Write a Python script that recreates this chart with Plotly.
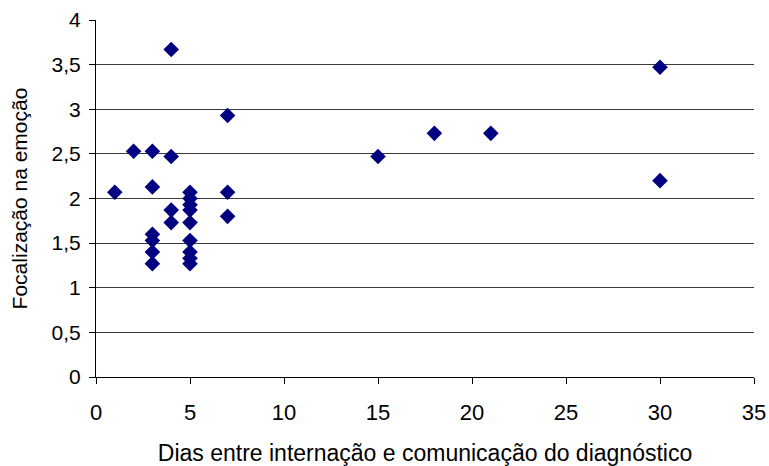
import plotly.graph_objects as go

# Days between admission and diagnosis disclosure
dias = [1, 2, 3, 3, 3, 3, 3, 3,
        4, 4, 4, 4,
        5, 5, 5, 5, 5, 5, 5, 5, 5,
        7, 7, 7, 15, 18, 21, 30, 30]
# Emotion-focused coping score
focalizacao = [2.07, 2.53, 2.53, 2.13, 1.60, 1.53, 1.40, 1.27,
               3.67, 2.47, 1.87, 1.73,
               2.07, 2.00, 1.93, 1.87, 1.73, 1.53, 1.40, 1.33, 1.27,
               2.93, 2.07, 1.80, 2.47, 2.73, 2.73, 3.47, 2.20]

x_ticks = [0, 5, 10, 15, 20, 25, 30, 35]
y_ticks = [0, 0.5, 1, 1.5, 2, 2.5, 3, 3.5, 4]
y_labels = ["0", "0,5", "1", "1,5", "2", "2,5", "3", "3,5", "4"]

fig = go.Figure(go.Scatter(
    x=dias, y=focalizacao, mode="markers",
    marker=dict(symbol="diamond", size=12, color="#000080",
                line=dict(width=0)),
    showlegend=False,
))

font = dict(family="Liberation Sans, Arial, sans-serif", color="black")

fig.update_layout(
    width=769, height=466,
    margin=dict(l=96, r=15, t=20, b=89),
    paper_bgcolor="white", plot_bgcolor="white",
    font=dict(**font, size=20),
)
fig.update_xaxes(
    range=[0, 35], tickvals=x_ticks, ticktext=[str(v) for v in x_ticks],
    showgrid=False, zeroline=False, automargin=False,
    showline=True, linecolor="black", linewidth=1,
    ticks="outside", ticklen=6, tickcolor="black",
    tickfont=dict(size=22), ticklabelstandoff=10,
    title=dict(text="Dias entre internação e comunicação do diagnóstico",
               font=dict(size=23), standoff=20),
)
fig.update_yaxes(
    range=[0, 4], tickvals=y_ticks, ticktext=y_labels,
    showgrid=True, gridcolor="#3a3a3a", gridwidth=1, zeroline=False,
    automargin=False,
    showline=True, linecolor="black", linewidth=1,
    ticks="outside", ticklen=6, tickcolor="black",
    tickfont=dict(size=21), ticklabelstandoff=4,
    title=dict(text="Focalização na emoção", font=dict(size=21), standoff=18),
)

fig.write_html("out.html")
